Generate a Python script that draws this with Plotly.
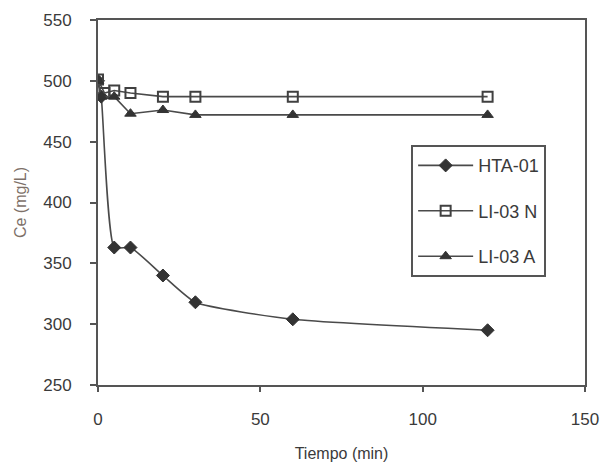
import plotly.graph_objects as go

# Concentración de Ce frente al tiempo de contacto
t_hta = [0, 1, 5, 10, 20, 30, 60, 120]
ce_hta = [500, 487, 363, 363, 340, 318, 304, 295]

t_li_n = [0, 2, 5, 10, 20, 30, 60, 120]
ce_li_n = [501, 490, 492, 490, 487, 487, 487, 487]

t_li_a = [0, 1, 5, 10, 20, 30, 60, 120]
ce_li_a = [500, 487, 487, 473, 476, 472, 472, 472]

x_ticks = [0, 50, 100, 150]
y_ticks = [250, 300, 350, 400, 450, 500, 550]

FONT = "Liberation Sans, Arial, sans-serif"
INK = "#3a3a3a"
LINE = "#4a4a4a"

fig = go.Figure()

fig.add_trace(go.Scatter(
    x=t_hta, y=ce_hta, name="HTA-01", legendgroup="a",
    mode="lines+markers",
    line=dict(color=LINE, width=1.6, shape="spline", smoothing=0.5),
    marker=dict(symbol="diamond", size=10, color="#333333",
                line=dict(color="#333333", width=1)),
))
fig.add_trace(go.Scatter(
    x=t_li_n, y=ce_li_n, name="LI-03 N", legendgroup="b",
    mode="lines+markers",
    line=dict(color=LINE, width=1.6),
    marker=dict(symbol="square-open", size=10, color="#404040",
                line=dict(color="#404040", width=2)),
))
fig.add_trace(go.Scatter(
    x=t_li_a, y=ce_li_a, name="LI-03 A", legendgroup="c",
    mode="lines+markers",
    line=dict(color=LINE, width=1.6),
    marker=dict(symbol="triangle-up", size=10, color="#333333",
                line=dict(color="#333333", width=1)),
))

axis_common = dict(
    showgrid=False, zeroline=False, automargin=False,
    showline=True, linecolor="#555555", linewidth=2, mirror=True,
    ticks="outside", tickcolor="#555555", tickwidth=1.5,
    tickfont=dict(family=FONT, size=17, color=INK),
)

fig.update_xaxes(
    range=[0, 150], tickvals=x_ticks, ticklen=5, ticklabelstandoff=13,
    title=dict(text="Tiempo (min)", font=dict(family=FONT, size=16, color=INK),
               standoff=19),
    **axis_common,
)
fig.update_yaxes(
    range=[250, 550], tickvals=y_ticks, ticklen=6, ticklabelstandoff=15,
    title=dict(text="Ce (mg/L)", font=dict(family=FONT, size=16, color="#7d7068"),
               standoff=13),
    **axis_common,
)

fig.update_layout(
    width=601, height=470,
    margin=dict(l=98, r=16, t=20, b=85),
    paper_bgcolor="white", plot_bgcolor="white",
    showlegend=True,
    legend=dict(
        x=0.643, y=0.657, xanchor="left", yanchor="top",
        bordercolor="#555555", borderwidth=2, bgcolor="white",
        font=dict(family=FONT, size=18, color=INK),
        tracegroupgap=19, itemwidth=55,
        entrywidth=90, entrywidthmode="pixels",
    ),
)

fig.write_html("out.html")
